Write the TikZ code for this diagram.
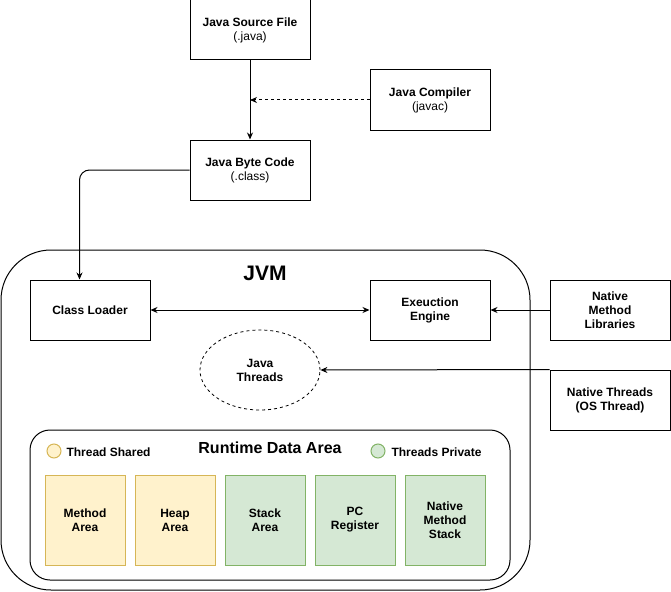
\documentclass[tikz,border=0pt]{standalone}
\usepackage{fontspec}
\setmainfont{Liberation Sans}
\usetikzlibrary{arrows.meta,shapes.geometric}
\definecolor{sharedfill}{HTML}{FFF2CC}
\definecolor{shareddraw}{HTML}{D6B656}
\definecolor{privatefill}{HTML}{D5E8D4}
\definecolor{privatedraw}{HTML}{82B366}
\begin{document}
\begin{tikzpicture}
[x=1pt,y=-1pt,font=\fontsize{12}{14}\selectfont,line width=1pt,
box/.style={draw,minimum width=120pt,minimum height=60pt,align=center,inner sep=0pt},
area/.style={draw,minimum width=80pt,minimum height=90pt,align=center,inner sep=0pt,font=\fontsize{12}{14}\selectfont\bfseries},
shared/.style={area,fill=sharedfill,draw=shareddraw},
private/.style={area,fill=privatefill,draw=privatedraw},
key/.style={circle,minimum size=14pt,inner sep=0pt},
link/.style={-{Stealth[length=7pt,width=6pt]}}]
\useasboundingbox (0,0) rectangle (671,591);
\draw [rounded corners=50pt] (1,250) rectangle (530,590);
\node [font=\fontsize{21}{24}\selectfont\bfseries] (jvm) at (265,273) {JVM};
\draw [rounded corners=20pt] (30,430) rectangle (510,580);
\node [font=\fontsize{16}{18}\selectfont\bfseries] (rda) at (270,448) {Runtime Data Area};
\node [box] (source) at (250,30) {\textbf{Java Source File}\\(.java)};
\node [box] (compiler) at (430,100) {\textbf{Java Compiler}\\(javac)};
\node [box] (byte) at (250,170) {\textbf{Java Byte Code}\\(.class)};
\node [box,font=\fontsize{12}{14}\selectfont\bfseries] (loader) at (90,310) {Class Loader};
\node [box,font=\fontsize{12}{14}\selectfont\bfseries] (exec) at (430,310) {Exeuction\\Engine};
\node [box,font=\fontsize{12}{14}\selectfont\bfseries] (natlib) at (610,310) {Native\\Method\\Libraries};
\node [box,font=\fontsize{12}{14}\selectfont\bfseries] (natthr) at (610,400) {Native Threads\\(OS Thread)};
\node [ellipse,draw,dash pattern=on 3pt off 3pt,line width=0.8pt,minimum width=120pt,minimum height=80pt,inner sep=0pt,align=center,font=\fontsize{12}{14}\selectfont\bfseries] (threads) at (260,370) {Java\\Threads};
\node [key,draw=shareddraw,fill=sharedfill] (sharedkey) at (54,451) {};
\node [anchor=west,inner sep=0pt,font=\fontsize{12}{14}\selectfont\bfseries] (sharedtext) at (66,452) {Thread Shared};
\node [key,draw=privatedraw,fill=privatefill] (privatekey) at (378,451) {};
\node [anchor=west,inner sep=0pt,font=\fontsize{12}{14}\selectfont\bfseries] (privatetext) at (391,452) {Threads Private};
\node [shared] (method) at (85,520) {Method\\Area};
\node [shared] (heap) at (175,520) {Heap\\Area};
\node [private] (stack) at (265,520) {Stack\\Area};
\node [private] (pc) at (355,520) {PC\\Register};
\node [private] (nstack) at (445,520) {Native\\Method\\Stack};
\coordinate (join) at (250,100);
\draw [link] (source) -- (byte);
\draw [link,dash pattern=on 3pt off 3pt] (compiler) -- (join);
\draw [link,rounded corners=10pt] (byte.west) -| ([xshift=50pt]loader.north west);
\draw [{Stealth[length=7pt,width=6pt]}-{Stealth[length=7pt,width=6pt]}] (loader) -- (exec);
\draw [link] (natlib) -- (exec);
\draw [link] (natthr.north west) -- (threads.east);
\end{tikzpicture}
\end{document}
